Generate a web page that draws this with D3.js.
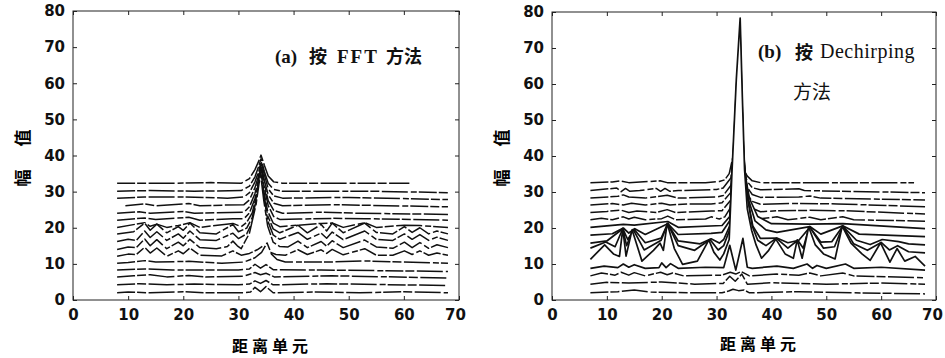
<!DOCTYPE html>
<html>
<head>
<meta charset="utf-8">
<script src="https://cdn.jsdelivr.net/npm/d3@7"></script>
<style>
  body { margin: 0; background: #fff; }
</style>
</head>
<body>
<svg id="chart" width="945" height="358"></svg>
<script>
// axis ticks
const xTicks = [0, 10, 20, 30, 40, 50, 60, 70];
const yTicks = [0, 10, 20, 30, 40, 50, 60, 70, 80];

// (a) FFT: baseline of each range profile, front (bottom) to back (top)
const offsetsA = [2.0, 4.2, 6.4, 8.3, 10.2, 12.4, 14.5, 16.5, 18.3, 20.1, 22.1, 24.0, 26.1, 28.2, 30.1, 32.3];
// (a) profiles: [range cell, amplitude above baseline]
const tracesA = [
  [[8,0],[10,0.2],[14,0],[20,0.3],[24,0],[31,0],[32.2,0.2],[33,1.5],[34,0.3],[35,1.7],[36.3,0],[44,0.2],[52,0],[60,0.3],[68,0]],
  [[8,0],[12,0.3],[17,0],[22,0.2],[30,0],[32,0.2],[33,1.1],[34,0.4],[35,1.2],[36.3,0],[46,0.3],[68,-0.2]],
  [[8,0],[11,0.3],[14,0.6],[17,0],[21,0.4],[24,0],[31,0.2],[33,1.2],[34,0.6],[35,1.0],[36.5,0],[47,0.3],[68,-0.3]],
  [[8,0],[13,0.3],[18,0],[30,0],[32,0.3],[33,1.6],[34,0.5],[35,1.5],[36.3,0.1],[45,0],[68,-0.4]],
  [[8,0],[10,0.2],[13,0.7],[15,0.3],[21,0.5],[27,0],[31,0.3],[33,1.5],[34.2,3],[35.2,5.6],[36,2.5],[37,1],[38.5,0.3],[46,0.3],[53,0.6],[68,0]],
  [[8,-0.3],[10,0.3],[11.5,0.2],[13,2.2],[14,0.6],[15.2,2],[17,-0.3],[19.1,1.2],[20,0.4],[21.2,2],[23,0],[27,-0.2],[29,1.2],[30.5,0],[32,0.5],[33.4,1.5],[34.5,2.6],[35.5,1],[36.8,0.2],[38.5,0],[40.8,1.5],[42.5,0.2],[45,1.5],[46,0.5],[47,1.6],[49,0.1],[52.9,1.8],[55,0],[58,0],[60.1,1.2],[61.5,0.2],[62.9,1.2],[64.5,0],[66,0.6],[68,0]],
  [[8,-0.5],[10,0.2],[11.5,0],[13,2.4],[14,0.5],[15.2,2.2],[17,-0.3],[19.1,1.5],[20,0.5],[21.2,2.3],[23,0],[26,-0.3],[28,0.3],[29,1.8],[29.8,0.5],[30.5,-0.3],[32,4],[33.2,12],[34,20.5],[34.6,13],[35.3,6],[36.3,1.5],[37.5,0.3],[39,0.2],[40.8,1.8],[42.5,0],[45,1.7],[46,0.4],[47,1.9],[49,0],[52.9,2.1],[55,0.2],[58,-0.2],[60.1,1.5],[61.5,0],[62.9,1.4],[64.5,-0.2],[66,0.8],[68,0]],
  [[8,-0.3],[10,0.3],[11.5,0],[13,2.6],[14,0.8],[15.2,2.4],[17,0],[19.1,1.8],[20,0.6],[21.2,2.6],[23,0.2],[26,0],[29,2],[30,0.5],[31.5,1.8],[32.5,5],[33.3,11],[34,19.3],[34.6,12],[35.3,5.5],[36.3,1.5],[37.5,0.3],[40.8,2.2],[42.5,0.3],[45,2],[46,0.6],[47,2.3],[49,0.2],[52.9,2.6],[55,0.3],[58,0],[60.1,1.8],[61.5,0.3],[62.9,1.6],[64.5,0],[66,0.9],[68,0]],
  [[8,0],[11,0.6],[13,3],[14,1],[15.2,2.7],[17,0.3],[19.1,2],[20,1],[21.2,3],[23,0.3],[26,0],[29,2.6],[30,0.6],[31.5,1.6],[32.5,4.5],[33.3,10],[34,17.8],[34.6,11],[35.3,5],[36.3,1.4],[37.5,0.3],[40.8,2.4],[42.5,0.3],[45,2.6],[46,0.8],[47,3],[49,0.3],[52.9,3],[55,0.4],[58,0],[60.1,2],[61.5,0.4],[62.9,1.7],[64.5,0],[66,0.8],[68,0]],
  [[8,0],[13,1.3],[14,0.3],[15.2,0.9],[17,0],[19.1,0.5],[21.2,1.3],[23,0],[29,1.1],[30.5,0.2],[31.5,1.4],[32.5,4],[33.3,9],[34,16.2],[34.6,10],[35.3,4.5],[36.3,1.2],[37.5,0.2],[40.8,0.6],[45,1.1],[47,1.2],[49,0],[52.9,1.3],[55,0],[60.1,0.6],[62.9,0.5],[68,0]],
  [[8,0],[13,0.6],[15,0.2],[21,0.8],[23,0],[29,0.4],[31,0.4],[32,2],[33,6],[33.6,10],[34.1,14.6],[34.7,9],[35.4,4],[36.4,1],[37.5,0.2],[41,0.3],[47,0.5],[53,0.4],[68,0]],
  [[8,0],[12,0.4],[14,0],[20,0.5],[22,0],[31,0.3],[32,1.8],[33,5.5],[33.6,9],[34.1,13],[34.7,8],[35.4,3.5],[36.4,0.8],[38,0],[45,0.3],[52,0],[68,-0.3]],
  [[9.5,0],[13,0.5],[15,0],[21,0.6],[23,0],[31,0.3],[32,1.6],[33,5],[33.6,8],[34.1,11.5],[34.7,7],[35.4,3],[36.4,0.7],[38,0],[47,0.3],[68,-0.3]],
  [[8,0],[13,0.3],[20,0.3],[28,0],[31,0.3],[32,1.5],[33,4.5],[33.7,7.5],[34.1,10.2],[34.7,6.5],[35.4,2.6],[36.4,0.6],[38,0],[50,0.2],[68,-0.4]],
  [[8,0],[14,0.2],[22,0],[30.5,0.2],[32,1.4],[33,4],[33.7,7],[34.1,9],[34.7,5.5],[35.4,2.2],[36.4,0.5],[38,0],[55,0],[68,-0.4]],
  [[8,0],[18,0],[25,0.2],[30.5,0],[32,1.3],[33,3.8],[33.7,6.2],[34.1,7.8],[34.7,5],[35.4,2],[36.4,0.4],[38,0],[61,0]]
];

// (b) Dechirping
const offsetsB = [2.0, 4.4, 6.7, 8.8, 11.3, 13.6, 15.6, 18.0, 20.2, 22.3, 24.3, 26.4, 28.3, 30.4, 32.6];
const tracesB = [
  [[7,0],[12,0.3],[15,0.8],[18,0.2],[25,0],[31,0],[32.2,0.5],[33,1],[34,0.6],[35,0.8],[36,0],[45,0.3],[55,0],[68,-0.3]],
  [[7,0],[10,0.5],[14,0.3],[20,0.6],[26,0],[31.2,0.2],[32.4,2.2],[33.4,0.8],[34.6,2.8],[35.6,0],[40,0.4],[50,0],[60,0.3],[68,0]],
  [[7,0],[9,0.8],[11.5,0.2],[12.6,1],[14,0.2],[15,0.9],[17,0],[19.8,1],[21,0.3],[22,0.8],[24,0],[31,0.2],[32.5,1],[33.5,0.5],[34.5,1.2],[36,0],[41,0.5],[45,0.2],[47,0.8],[49,0],[53,0.8],[55,0],[68,-0.5]],
  [[7,0],[9.5,0.6],[12,0.2],[13,1.2],[14,0.3],[15,1],[17,0],[19.5,0.2],[20,1.5],[20.8,0.2],[21.6,1.3],[23,0],[28,0.3],[31.3,0.2],[32.4,6.4],[33.5,-0.5],[34.8,8.3],[35.6,0.3],[36.5,0],[41,0.6],[44,0],[46.5,1.2],[47.5,0],[48.3,0.8],[50,0],[53.5,1.2],[55,0],[60,0.3],[68,-0.5]],
  [[7,0],[9.6,4],[11.2,1.5],[12.3,0.8],[12.9,8.5],[13.5,0.9],[14.6,8.2],[16.4,-0.5],[18.5,2.5],[19.7,4.5],[20.3,2.5],[21,10],[22.3,3],[23.8,-1.4],[26.5,-0.5],[28.6,5.4],[29.5,2],[30.6,-0.2],[31.3,1.5],[32.3,5.5],[32.8,24],[33.6,50],[34.3,67],[34.7,45],[35.1,25],[35.6,14],[36.4,8],[37.2,4],[38.2,0.3],[39.5,2.5],[40.8,5.6],[42.5,1.5],[44,0.3],[44.7,5.4],[45.6,0.3],[46.8,9],[48,4],[49.5,1.5],[51.6,0.1],[52.9,9.2],[54.5,4.5],[56.5,1.5],[58,-0.3],[59.9,4.6],[61.6,-0.8],[62.9,3],[64.3,-0.5],[66.2,0.8],[68,-1.9]],
  [[7,0.8],[9.8,2.5],[11.5,1.2],[12.9,6.2],[13.6,1.5],[14.8,6],[16.8,0.3],[19.9,3],[21.1,7.6],[23,1.5],[26,0.2],[28.8,3.2],[30.3,0.3],[31.3,1.5],[32.4,6],[33.6,45],[34.3,60],[34.9,28],[35.5,16],[36.5,7],[37.5,3],[39,1.5],[40.9,3.6],[43,0.8],[44.8,3],[45.8,0.8],[46.9,6.8],[49.5,0.8],[51.5,1.2],[53,6.9],[55,2],[57.5,0.2],[60,2.4],[61.5,0.3],[63,1.5],[65,-0.2],[68,-0.5]],
  [[7,0.2],[10,0.8],[12.9,4.2],[13.8,1.2],[15,4],[17,0.3],[19.9,1.6],[21.1,5.6],[23,0.8],[27,0],[29,1.4],[30.5,0.2],[31.3,1.2],[32.4,5],[33.6,40],[34.3,55],[34.9,25],[35.6,13],[36.6,5],[38,1.5],[41,1.6],[43,0.3],[45,1],[47,4.6],[49,0.5],[51,0.6],[53,4.9],[55.5,1],[58,-0.2],[60.2,1.2],[63.2,0.6],[65,0],[68,-0.3]],
  [[7,0],[11,0.4],[13,2],[14,0.6],[15.1,1.8],[17,0.2],[21.1,3.2],[23,0.2],[29,0.5],[31,0.8],[32.4,4],[33.6,35],[34.3,50],[35,20],[35.8,10],[37,4],[39,1.5],[41,0.8],[47,2.4],[49,0.3],[53,2.6],[56,0.3],[68,-0.4]],
  [[7,0],[13,0.8],[15,0.6],[21.1,1.6],[23,0],[31,0.5],[32.4,3],[33.6,30],[34.3,45],[35,16],[36,8],[37.5,3],[40,1],[47,0.9],[53,1],[68,-0.4]],
  [[7,0],[9,0.4],[11,0],[13,0.8],[14,0.2],[15,0.7],[17,0],[20,0.3],[21.1,1],[22.5,0],[28,0.2],[29,0.8],[30.5,0.2],[31.5,0.8],[32.6,3.5],[33.4,25],[34.3,40],[35,10],[35.6,4],[36.5,1.5],[38,0.3],[41,0.8],[43,0],[47,0.7],[49,0],[53,0.8],[55,0],[68,-0.4]],
  [[7,0],[10,0.3],[12.5,0.7],[14,0],[15.5,0.4],[19,0],[21,0.8],[22.5,0],[29,0.4],[31,0.5],[32.6,3.5],[33.4,22],[34.3,35],[35,9],[35.6,3.5],[36.5,1.2],[38,0.2],[41,0.5],[47,0.6],[53,0.5],[68,-0.4]],
  [[7,0],[11,0.4],[13,0],[14.5,0.5],[17,0],[20,0.5],[21.5,0],[25,0.3],[29,0.3],[31,0.6],[32.6,3.5],[33.4,20],[34.3,32],[35,8],[35.6,3],[36.5,1],[38,0.2],[44,0.4],[52,0.3],[68,-0.5]],
  [[7,0],[12,0.5],[13,0.9],[14,0.3],[17,0],[21,0.8],[23,0],[30,0.3],[31.2,0.7],[32.6,3.5],[33.4,18],[34.3,30],[35,7],[35.6,3],[36.5,1],[38,0.2],[45,0.3],[47,0.6],[49,0],[68,-0.5]],
  [[7,0],[11.8,0.7],[12.6,-0.3],[13.4,0.6],[14.2,-0.2],[16,0],[19,0.6],[19.8,-0.2],[20.6,0.6],[21.5,-0.2],[23,0],[30,0.3],[31.2,0.7],[32.6,3.5],[33.4,16],[34.3,28],[35,5],[35.6,2.5],[36.5,0.8],[38,0.2],[45,0.5],[46,0],[68,-0.6]],
  [[7,0],[11,0.2],[12.4,0.5],[14,0],[19.7,0.5],[21,0],[28,0],[30.5,0.3],[31.5,0.8],[32.3,2.5],[33.4,10],[34.3,26],[35,3.5],[35.6,1.8],[36.5,0.5],[38,0],[66,0]]
];

const panels = [
  { offsets: offsetsA, traces: tracesA, xr: [73, 459], yr: [300, 11], solid: [] },
  { offsets: offsetsB, traces: tracesB, xr: [552, 936], yr: [300, 12], solid: [3, 4, 5, 6, 7, 8] }
];

const dash = '18,2,9,2.5,26,3,6,2';
const tickFont = "'DejaVu Sans', sans-serif";
const cjk = "'Noto Sans CJK SC', sans-serif";
const serif = "'Liberation Serif', serif";

const svg = d3.select('#chart');

function drawPanel(p) {
  const x = d3.scaleLinear().domain([0, 70]).range(p.xr);
  const y = d3.scaleLinear().domain([0, 80]).range(p.yr);
  const g = svg.append('g');

  const area = d3.area().x(d => x(d[0])).y0(y(0)).y1(d => y(d[1]));
  const line = d3.line().x(d => x(d[0])).y(d => y(d[1]));

  // back to front, white fill hides what lies behind
  for (let i = p.traces.length - 1; i >= 0; i--) {
    const pts = p.traces[i].map(([u, dv]) => [u, p.offsets[i] + dv]);
    const solid = p.solid.includes(i);
    g.append('path').attr('d', area(pts)).attr('fill', '#fff');
    g.append('path')
      .attr('d', line(pts))
      .attr('fill', 'none')
      .attr('stroke', '#111')
      .attr('stroke-width', solid ? 1.7 : 1.5)
      .attr('stroke-linejoin', 'round')
      .attr('stroke-dasharray', solid ? null : dash);
  }

  // frame
  g.append('rect')
    .attr('x', p.xr[0]).attr('y', p.yr[1])
    .attr('width', p.xr[1] - p.xr[0]).attr('height', p.yr[0] - p.yr[1])
    .attr('fill', 'none').attr('stroke', '#222').attr('stroke-width', 1);

  const styleAxis = (sel) => {
    sel.select('.domain').remove();
    sel.selectAll('line').attr('stroke', '#222');
    sel.selectAll('text')
      .attr('font-family', tickFont)
      .attr('font-size', 15)
      .attr('font-weight', 'bold')
      .attr('fill', '#111');
  };

  g.append('g').attr('transform', `translate(${p.xr[0]},0)`)
    .call(d3.axisLeft(y).tickValues(yTicks).tickSizeInner(-4).tickSizeOuter(0).tickPadding(8))
    .call(styleAxis);
  const bottom = g.append('g').attr('transform', `translate(0,${p.yr[0]})`)
    .call(d3.axisBottom(x).tickValues(xTicks).tickSizeInner(-4).tickSizeOuter(0).tickPadding(9))
    .call(styleAxis);
  // keep the last label inside the picture
  bottom.selectAll('text').filter(d => d === 70).attr('dx', -4);
  g.append('g').attr('transform', `translate(${p.xr[1]},0)`)
    .call(d3.axisRight(y).tickValues(yTicks).tickSizeInner(-4).tickSizeOuter(0).tickFormat(() => ''))
    .call(styleAxis);
  g.append('g').attr('transform', `translate(0,${p.yr[1]})`)
    .call(d3.axisTop(x).tickValues(xTicks).tickSizeInner(-4).tickSizeOuter(0).tickFormat(() => ''))
    .call(styleAxis);
}

panels.forEach(drawPanel);

// axis titles
function yTitle(cx) {
  [['幅', 178], ['值', 138]].forEach(([t, cy]) => {
    svg.append('text')
      .attr('transform', `translate(${cx},${cy}) rotate(-90)`)
      .attr('text-anchor', 'middle').attr('dominant-baseline', 'central')
      .attr('font-family', cjk).attr('font-size', 17).attr('font-weight', 'bold')
      .text(t);
  });
}
yTitle(21);
yTitle(500);

function xTitle(cx, cy) {
  svg.append('text')
    .attr('x', cx).attr('y', cy)
    .attr('text-anchor', 'middle').attr('dominant-baseline', 'central')
    .attr('font-family', cjk).attr('font-size', 16).attr('font-weight', 'bold')
    .attr('letter-spacing', 4)
    .text('距离单元');
}
xTitle(272, 345);
xTitle(760, 343);

// panel captions
function put(t, x, y, font, size, weight, ls) {
  svg.append('text').attr('x', x).attr('y', y)
    .attr('font-family', font).attr('font-size', size).attr('font-weight', weight)
    .attr('letter-spacing', ls || 0).attr('fill', '#111')
    .text(t);
}
put('(a)', 275, 63, serif, 19, 'bold');
put('按', 309, 63, cjk, 18, 'bold');
put('FFT', 337, 63, serif, 19, 'bold', 2);
put('方法', 386, 63, cjk, 18, 'bold');

put('(b)', 758, 58, serif, 19, 'bold');
put('按', 795, 59, cjk, 18, 'bold');
put('Dechirping', 820, 58, serif, 20, 'normal', 0.5);
put('方法', 793, 99, cjk, 19, 'normal');
</script>
</body>
</html>
